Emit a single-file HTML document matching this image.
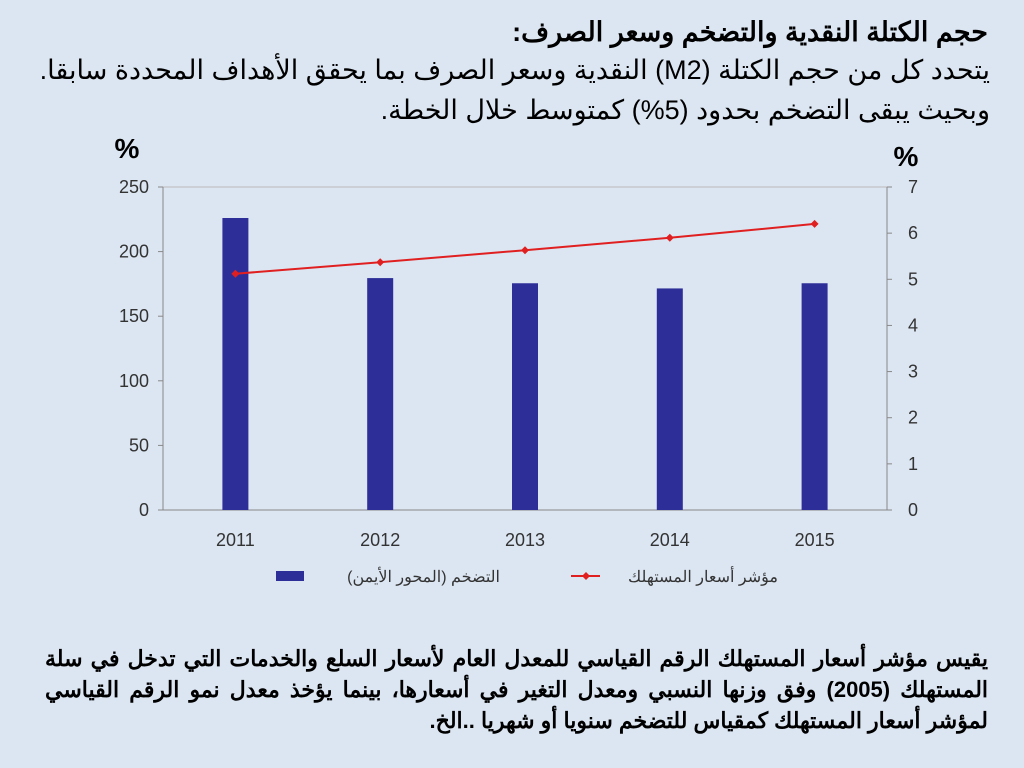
<!DOCTYPE html>
<html><head><meta charset="utf-8"><style>
body{margin:0;width:1024px;height:768px;background:#dce6f2;overflow:hidden;font-family:"Liberation Sans","Noto Sans CJK SC",sans-serif;position:relative}
.t{position:absolute;right:36px;direction:rtl;text-align:right;color:#000;white-space:nowrap}
.j{width:943px;white-space:nowrap;text-align:justify;text-align-last:justify}
</style></head><body>
<div class="t" style="top:17px;font-size:27px;font-weight:bold">حجم الكتلة النقدية والتضخم وسعر الصرف:</div>
<div class="t" style="top:55px;font-size:27px;right:34px">يتحدد كل من حجم الكتلة (M2) النقدية وسعر الصرف بما يحقق الأهداف المحددة سابقا.</div>
<div class="t" style="top:95px;font-size:27px;right:34px">وبحيث يبقى التضخم بحدود (5%) كمتوسط خلال الخطة.</div>
<svg id="chart" width="1024" height="768" style="position:absolute;left:0;top:0"></svg>
<div class="t" style="top:643px;right:36px;font-size:22px;font-weight:bold;line-height:31px">
<div class="j">يقيس مؤشر أسعار المستهلك الرقم القياسي للمعدل العام لأسعار السلع والخدمات التي تدخل في سلة</div>
<div class="j">المستهلك (2005) وفق وزنها النسبي ومعدل التغير في أسعارها، بينما يؤخذ معدل نمو الرقم القياسي</div>
<div>لمؤشر أسعار المستهلك كمقياس للتضخم سنويا أو شهريا ..الخ.</div>
</div>
<script>
const years=["2011","2012","2013","2014","2015"];
const inflation=[226,179.5,175.5,171.5,175.5];
const cpi=[5.12,5.37,5.63,5.9,6.2];
const leftTicks=[0,50,100,150,200,250];
const rightTicks=[0,1,2,3,4,5,6,7];
const NS="http://www.w3.org/2000/svg";
const svg=document.getElementById('chart');
const X0=163,X1=887,Y0=510,Y1=187;
const yL=v=>Y0-(v/250)*(Y0-Y1);
const yR=v=>Y0-(v/7)*(Y0-Y1);
const xC=i=>X0+(i+0.5)*(X1-X0)/years.length;
function mk(tag,a,txt){const e=document.createElementNS(NS,tag);for(const k in a)e.setAttribute(k,a[k]);if(txt!==undefined)e.textContent=txt;svg.appendChild(e);return e;}
let e;
e=mk('line',{x1:X0,x2:X1,y1:Y1,y2:Y1,stroke:'#bbb'});


e=mk('line',{x1:X0,x2:X0,y1:Y1,y2:Y0,stroke:'#888'});


e=mk('line',{x1:X1,x2:X1,y1:Y1,y2:Y0,stroke:'#888'});


e=mk('line',{x1:X0,x2:X1,y1:Y0,y2:Y0,stroke:'#888'});


leftTicks.forEach(v=>{
 mk('line',{x1:X0-5,x2:X0,y1:yL(v),y2:yL(v),stroke:'#888'});
 e=mk('text',{x:X0-14,y:yL(v)+6,'text-anchor':'end','font-size':18,fill:'#333'},v);
 
 
});
rightTicks.forEach(v=>{
 mk('line',{x1:X1,x2:X1+5,y1:yR(v),y2:yR(v),stroke:'#888'});
 e=mk('text',{x:X1+21,y:yR(v)+6,'font-size':18,fill:'#333'},v);
 
 
});
years.forEach((y,i)=>{
 e=mk('rect',{x:xC(i)-13,y:yL(inflation[i]),width:26,height:Y0-yL(inflation[i]),fill:'#2e2e99'});
 
 
 e=mk('text',{x:xC(i),y:546,'text-anchor':'middle','font-size':18,fill:'#333'},y);
 
 
});
e=mk('polyline',{points:cpi.map((v,i)=>xC(i)+','+yR(v)).join(' '),fill:'none',stroke:'#e02020','stroke-width':2});


cpi.forEach((v,i)=>{
 e=mk('path',{d:`M${xC(i)-4},${yR(v)} L${xC(i)},${yR(v)-4} L${xC(i)+4},${yR(v)} L${xC(i)},${yR(v)+4}Z`,fill:'#e02020'});
 
 
});
e=mk('text',{x:127,y:158,'text-anchor':'middle','font-size':28,'font-weight':'bold'},'%');


e=mk('text',{x:906,y:166,'text-anchor':'middle','font-size':28,'font-weight':'bold'},'%');


e=mk('rect',{x:276,y:571,width:28,height:10,fill:'#2e2e99'});


e=mk('text',{x:500,y:582,'text-anchor':'start','font-size':16,fill:'#333',direction:'rtl'},'التضخم (المحور الأيمن)');


e=mk('line',{x1:571,x2:600,y1:576,y2:576,stroke:'#e02020','stroke-width':2});


mk('path',{d:'M582,576 L586,572 L590,576 L586,580Z',fill:'#e02020'});
e=mk('text',{x:778,y:582,'text-anchor':'start','font-size':16,fill:'#333',direction:'rtl'},'مؤشر أسعار المستهلك');


</script>
</body></html>
